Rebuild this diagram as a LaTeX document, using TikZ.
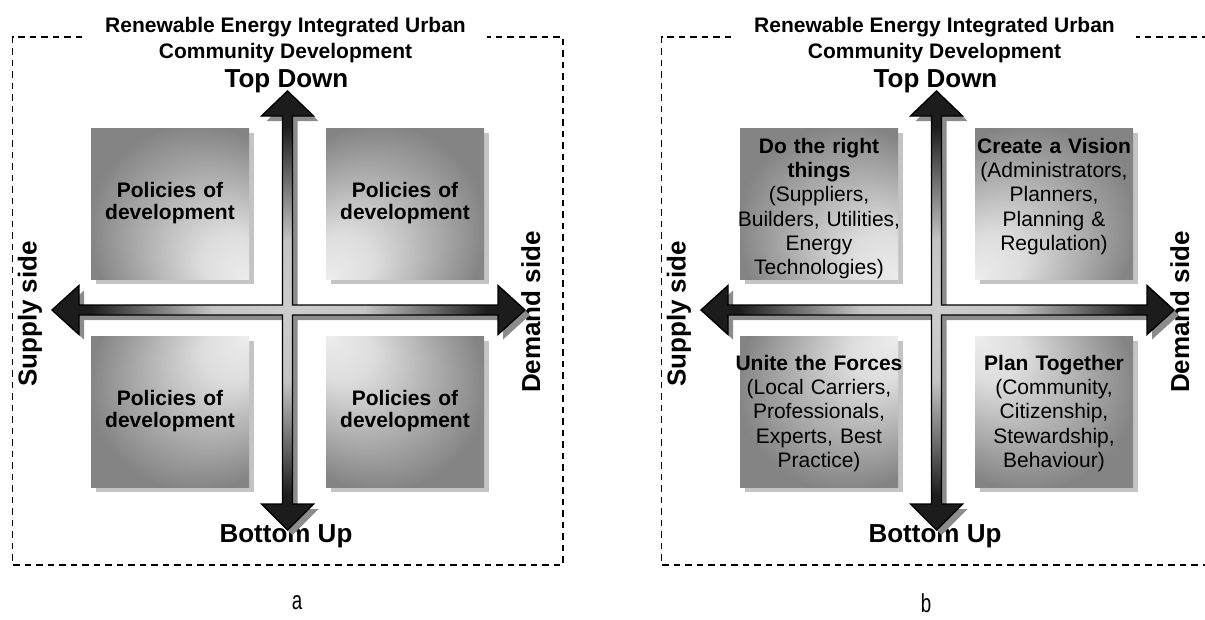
\documentclass[tikz,border=0pt]{standalone}
\usepackage{fontspec}
\setmainfont{Liberation Sans}
\usetikzlibrary{shadows}
\definecolor{boxdark}{HTML}{848484}
\definecolor{boxlight}{HTML}{EDEDED}
\definecolor{boxshadow}{HTML}{C4C4C4}
\definecolor{arrowshadow}{HTML}{8C8C8C}
\definecolor{crossmid}{HTML}{CDCDCD}
\definecolor{crossend}{HTML}{1C1C1C}
\pgfdeclareradialshading{boxshade}{\pgfpoint{25bp}{-25bp}}{color(0bp)=(boxlight); color(10bp)=(boxlight!85!boxdark); color(24bp)=(boxlight!35!boxdark); color(34bp)=(boxdark); color(50bp)=(boxdark)}
\pgfdeclareradialshading{crossshade}{\pgfpointorigin}{color(0bp)=(crossmid); color(8bp)=(crossmid!95!crossend); color(15bp)=(crossmid!45!crossend); color(21bp)=(crossend); color(50bp)=(crossend)}
\tikzset{
  frameline/.style={line width=1.4pt, dash pattern=on 6.5pt off 5pt},
  quadbox/.style={rectangle, inner sep=0pt, minimum width=158pt, minimum height=151pt,
    shading=boxshade, drop shadow={shadow xshift=5pt, shadow yshift=-5pt, fill=boxshadow, opacity=1}},
  titletext/.style={font=\fontsize{21}{25}\selectfont\bfseries, inner sep=0pt, anchor=base},
  axistext/.style={font=\fontsize{26}{30}\selectfont\bfseries, inner sep=0pt, anchor=base},
  boxtext/.style={font=\fontsize{21}{24.3}\selectfont, inner sep=0pt, anchor=north, align=center, text width=200pt},
  boxtexta/.style={boxtext, font=\fontsize{21}{22}\selectfont\bfseries},
  crossfill/.style={shading=crossshade, draw=black, line width=1.4pt, line join=miter},
  crossshadow/.style={fill=arrowshadow},
  panellabel/.style={font=\fontsize{26}{28}\selectfont, inner sep=0pt},
}
\newcommand\crossshape[1]{%
  \path[#1] (287.5,91) -- (313.5,116) -- (292.5,116) -- (292.5,305) -- (498,305) -- (498,285.5)
    -- (525,310) -- (498,334.5) -- (498,315) -- (292.5,315) -- (292.5,504) -- (313.5,504)
    -- (287.5,530) -- (261.5,504) -- (282.5,504) -- (282.5,315) -- (79,315) -- (79,334.5)
    -- (52,310) -- (79,285.5) -- (79,305) -- (282.5,305) -- (282.5,116) -- (261.5,116) -- cycle;}
\newcommand\panelbase{%
  \node[titletext] (title1) at (285.5,32) {Renewable Energy Integrated Urban};
  \node[titletext] (title2) at (285.5,58) {Community Development};
  \draw[frameline] (82,37) -- (12.7,37) -- (12.7,565) -- (563,565) -- (563,37) -- (487,37);
  \node[quadbox, shading angle=0] (ul) at (170,203.5) {};
  \node[quadbox, shading angle=-90] (ur) at (405,203.5) {};
  \node[quadbox, shading angle=90] (ll) at (170,411.5) {};
  \node[quadbox, shading angle=180] (lr) at (405,411.5) {};
  \node[axistext] (top) at (286.5,87) {Top Down};
  \node[axistext] (bottom) at (286,542) {Bottom Up};
  \node[axistext, rotate=90] (supply) at (36.5,314) {Supply side};
  \node[axistext, rotate=90] (demand) at (540,312) {Demand side};
  \crossshape{crossshadow, shift={(5,5)}}
  \crossshape{crossfill}
}
\begin{document}
\begin{tikzpicture}[x=1pt, y=-1pt]
\useasboundingbox (0,0) rectangle (1205,619);
\clip (0,0) rectangle (1205,619);
\begin{scope}[name prefix=a-]
  \panelbase
  \node[boxtexta] (ult) at (170,181) {\rule{0pt}{16pt}Policies of\\development};
  \node[boxtexta] (urt) at (405,181) {\rule{0pt}{16pt}Policies of\\development};
  \node[boxtexta] (llt) at (170,389) {\rule{0pt}{16pt}Policies of\\development};
  \node[boxtexta] (lrt) at (405,389) {\rule{0pt}{16pt}Policies of\\development};
\end{scope}
\begin{scope}[shift={(649,0)}, name prefix=b-]
  \panelbase
  \begin{scope}
    \clip ([xshift=-25pt]b-ul.north west) rectangle ([xshift=25pt]b-ul.south east);
    \node[boxtext] (ult) at (170,137) {\rule{0pt}{16pt}{\bfseries Do the right\\things}\\(Suppliers,\\Builders, Utilities,\\Energy\\Technologies)};
  \end{scope}
  \node[boxtext] (urt) at (405,137) {\rule{0pt}{16pt}{\bfseries Create a Vision}\\(Administrators,\\Planners,\\Planning \&\\Regulation)};
  \node[boxtext] (llt) at (170,354) {\rule{0pt}{16pt}{\bfseries Unite the Forces}\\(Local Carriers,\\Professionals,\\Experts, Best\\Practice)};
  \node[boxtext] (lrt) at (405,354) {\rule{0pt}{16pt}{\bfseries Plan Together}\\(Community,\\Citizenship,\\Stewardship,\\Behaviour)};
\end{scope}
\node[panellabel] (labela) at (297,603) {\scalebox{0.72}[1]{a}};
\node[panellabel] (labelb) at (926,603) {\scalebox{0.72}[1]{b}};
\end{tikzpicture}
\end{document}
